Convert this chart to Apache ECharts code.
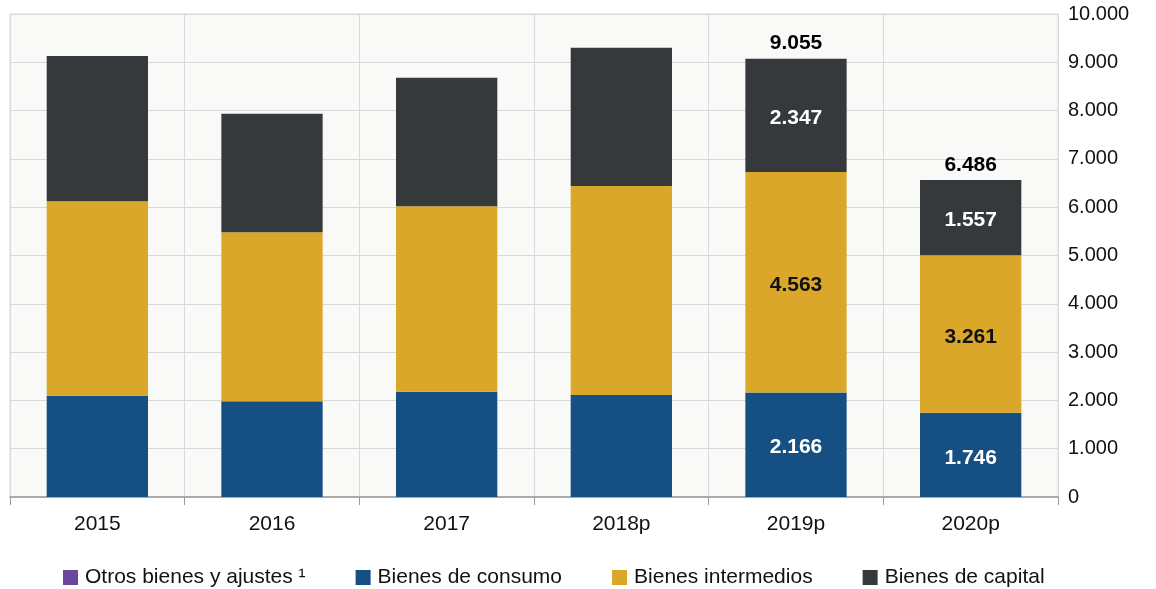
<!DOCTYPE html>
<html>
<head>
<meta charset="utf-8">
<script src="https://cdn.jsdelivr.net/npm/echarts@6/dist/echarts.min.js"></script>
<style>
	html, body { margin: 0; padding: 0; background: #fff; }
	#chart { width: 1156px; height: 589px; }
</style>
</head>
<body>
<div id="chart"></div>
<script>
	var years = ['2015', '2016', '2017', '2018p', '2019p', '2020p'];
	var otros = [0, 0, 0, 0, -21, -78];
	var consumo = [2097, 1981, 2180, 2112, 2166, 1746];
	var intermedios = [4025, 3499, 3838, 4327, 4563, 3261];
	var capital = [3008, 2456, 2663, 2863, 2347, 1557];
	var totals = [null, null, null, null, 9055, 6486];
	var yTicks = [0, 1000, 2000, 3000, 4000, 5000, 6000, 7000, 8000, 9000, 10000];

	var fmt = function (n) {
		return String(n).replace(/\B(?=(\d{3})+(?!\d))/g, '.');
	};

	// etiquetas solo en las columnas con total
	function withLabels(arr) {
		var out = [];
		for (var i = 0; i < arr.length; i++) {
			out.push({ value: arr[i], label: { show: totals[i] != null } });
		}
		return out;
	};

	// posicion del total = tope de la columna apilada
	var tops = [];
	for (var i = 0; i < years.length; i++) {
		tops.push(totals[i] != null ? consumo[i] + intermedios[i] + capital[i] : '-');
	};

	var chart = echarts.init(document.getElementById('chart'));
	function barLabel(color) {
		return {
			color: color,
			fontSize: 21,
			fontWeight: 'bold',
			offset: [0, 3],
			formatter: function (p) { return fmt(p.value); }
		};
	};

	var option = {
		animation: false,
		textStyle: { fontFamily: 'Liberation Sans, Arial, sans-serif' },
		grid: {
			left: 10,
			right: 98,
			top: 14,
			bottom: 92,
			show: true,
			backgroundColor: '#f9f9f7',
			borderColor: '#d9d9d9',
			borderWidth: 1
		},
		legend: {
			data: ['Otros bienes y ajustes ¹', 'Bienes de consumo', 'Bienes intermedios', 'Bienes de capital'],
			top: 562,
			left: 58,
			icon: 'rect',
			itemWidth: 15,
			itemHeight: 15,
			itemGap: 50,
			textStyle: { fontSize: 21, color: '#111', padding: [0, 0, 0, 2] }
		},
		xAxis: {
			type: 'category',
			data: years,
			axisLine: { lineStyle: { color: '#999', width: 1.5 } },
			axisTick: { show: true, length: 8, lineStyle: { color: '#999' } },
			axisLabel: { fontSize: 21, color: '#111', margin: 17 },
			splitLine: { show: true, lineStyle: { color: '#d9d9d9' } }
		},
		yAxis: {
			type: 'value',
			position: 'right',
			min: 0,
			max: 10000,
			interval: 1000,
			axisLine: { show: false },
			axisTick: { show: false },
			axisLabel: {
				fontSize: 20,
				color: '#111',
				margin: 10,
				formatter: function (v) { return yTicks.indexOf(v) > -1 ? fmt(v) : ''; }
			},
			splitLine: { show: true, lineStyle: { color: '#d9d9d9' } }
		},
		series: [{
			name: 'Otros bienes y ajustes ¹',
			type: 'bar',
			stack: 'total',
			barWidth: '58%',
			itemStyle: { color: '#6b479c' },
			data: otros
		}, {
			name: 'Bienes de consumo',
			type: 'bar',
			stack: 'total',
			barWidth: '58%',
			itemStyle: { color: '#165082' },
			label: barLabel('#fff'),
			data: withLabels(consumo)
		}, {
			name: 'Bienes intermedios',
			type: 'bar',
			stack: 'total',
			barWidth: '58%',
			itemStyle: { color: '#daa72a' },
			label: barLabel('#111'),
			data: withLabels(intermedios)
		}, {
			name: 'Bienes de capital',
			type: 'bar',
			stack: 'total',
			barWidth: '58%',
			itemStyle: { color: '#36393c' },
			label: barLabel('#fff'),
			data: withLabels(capital)
		}, {
			name: 'Total',
			type: 'scatter',
			data: tops,
			symbol: 'circle',
			symbolSize: 1,
			itemStyle: { color: 'rgba(0,0,0,0)', opacity: 1 },
			label: {
				show: true,
				position: 'top',
				distance: 4,
				color: '#000',
				opacity: 1,
				fontSize: 21,
				fontWeight: 'bold',
				formatter: function (p) { return fmt(totals[p.dataIndex]); }
			}
		}]
	};
	chart.setOption(option);
</script>
</body>
</html>
